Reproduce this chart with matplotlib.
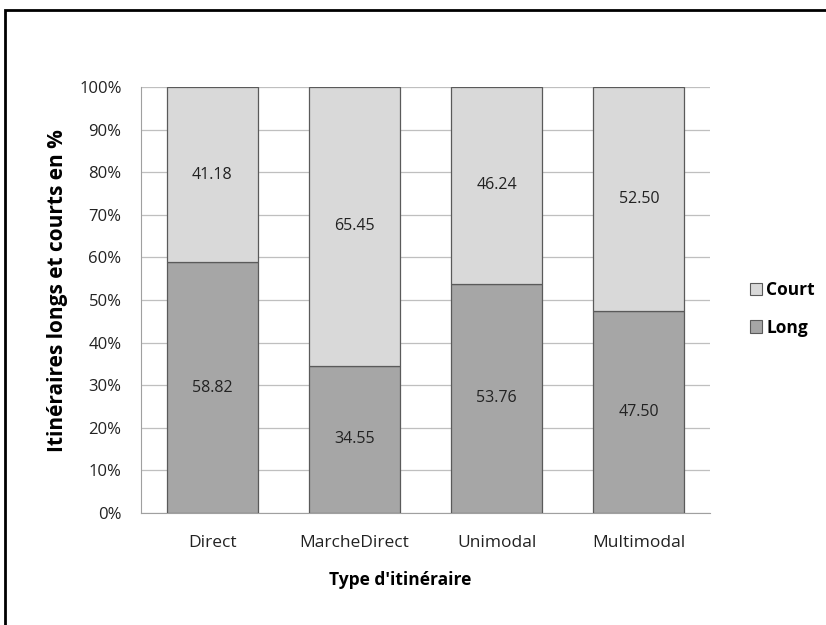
import matplotlib
matplotlib.use("Agg")
import matplotlib.pyplot as plt
from matplotlib.patches import Rectangle, Patch
import numpy as np

categories = ["Direct", "MarcheDirect", "Unimodal", "Multimodal"]
long_vals = [58.82, 34.55, 53.76, 47.50]
court_vals = [41.18, 65.45, 46.24, 52.50]
yticks = [0, 10, 20, 30, 40, 50, 60, 70, 80, 90, 100]

plt.rcParams['font.family'] = ['Open Sans', 'DejaVu Sans']
FS = 12.5

fig = plt.figure(figsize=(8.26, 6.25), dpi=100)
ax = fig.add_axes([141/826, 1-513/625, (710-141)/826, (513-87)/625])

x = np.arange(len(categories))
w = 0.64
c_long = "#a6a6a6"
c_court = "#d9d9d9"
edge = "#5a5a5a"
ax.bar(x, long_vals, w, color=c_long, edgecolor=edge, linewidth=0.9, zorder=3)
ax.bar(x, court_vals, w, bottom=long_vals, color=c_court, edgecolor=edge, linewidth=0.9, zorder=3)

for i in range(len(categories)):
    ax.text(x[i], long_vals[i]/2, f"{long_vals[i]:.2f}", ha='center', va='center', fontsize=11.5, color='#222222', zorder=4)
    ax.text(x[i], long_vals[i] + court_vals[i]/2, f"{court_vals[i]:.2f}", ha='center', va='center', fontsize=11.5, color='#222222', zorder=4)

ax.set_xlim(-0.5, len(categories)-0.5)
ax.set_ylim(0, 100)
ax.set_yticks(yticks)
ax.set_yticklabels([f"{t}%" for t in yticks], fontsize=12)
ax.set_xticks(x)
ax.set_xticklabels(categories, fontsize=FS)
ax.tick_params(axis='y', length=0, pad=14, colors='#222222')
ax.tick_params(axis='x', length=0, pad=16, colors='#222222')
ax.yaxis.grid(True, color="#bfbfbf", linewidth=0.9, zorder=0)
ax.set_axisbelow(True)
for s in ['top', 'right']:
    ax.spines[s].set_visible(False)
ax.spines['left'].set_color("#a0a0a0")
ax.spines['bottom'].set_color("#a0a0a0")

ax.set_xlabel("Type d'itinéraire", fontsize=12.5, fontweight='bold', labelpad=14)
ax.xaxis.label.set_x(0.456)
ax.set_ylabel("Itinéraires longs et courts en %", fontsize=15, fontweight='bold', labelpad=8)
ax.yaxis.label.set_y(0.521)

handles = [Patch(facecolor=c_court, edgecolor=edge, linewidth=0.8, label="Court"),
           Patch(facecolor=c_long, edgecolor=edge, linewidth=0.8, label="Long")]
leg = fig.legend(handles=handles, loc='center left', bbox_to_anchor=(734/826, 1-309/625),
                 frameon=False, prop={'weight': 'bold', 'size': FS},
                 handlelength=0.7, handleheight=0.7, handletextpad=0.25, labelspacing=1.1)

fig.patches.append(Rectangle((5/826, -0.1), 1.2, 1.1 - 10/625, transform=fig.transFigure,
                             fill=False, edgecolor='black', linewidth=2))

fig.savefig("out.png", dpi=100)
